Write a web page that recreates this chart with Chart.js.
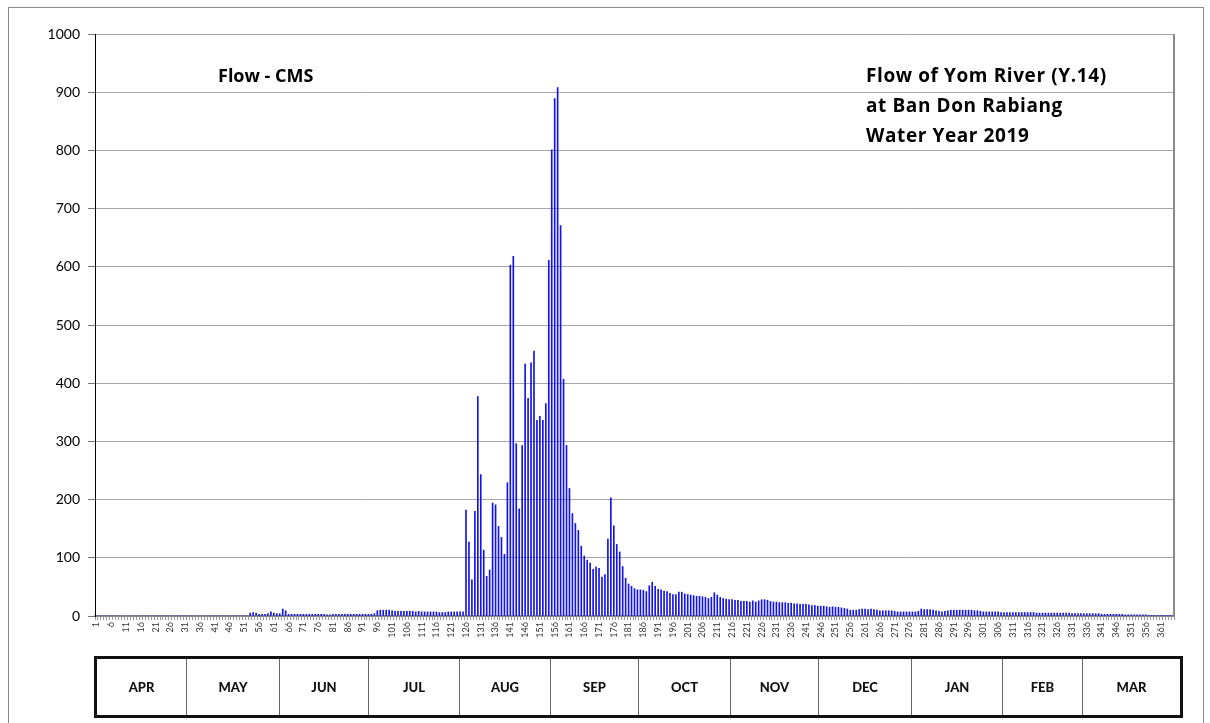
<!DOCTYPE html>
<html>
<head>
<meta charset="utf-8">
<script src="https://cdn.jsdelivr.net/npm/chart.js@4.4.1/dist/chart.umd.min.js"></script>
<style>
  html, body { margin: 0; padding: 0; background: #fff; }
  #wrap { position: relative; width: 1210px; height: 723px; overflow: hidden; font-family: Lato, "Open Sans", sans-serif; }
  #frame { position: absolute; left: 8px; top: 7px; width: 1194px; height: 740px; border: 1px solid #8c8c8c; }
  #chart { position: absolute; left: 0; top: 0; }
  .note { position: absolute; font-family: "Open Sans", sans-serif; font-weight: bold; font-size: 19px; color: #000; white-space: nowrap; line-height: 20px; }
  .note.right { letter-spacing: 0.6px; }
  #months { position: absolute; left: 94px; top: 656px; width: 1083px; height: 56px; border: 3px solid #111; display: flex; }
  #months div { border-right: 1px solid #666; box-sizing: border-box; text-align: center; font-weight: 900; font-size: 13px; line-height: 56px; color: #111; }
  #months div:last-child { border-right: none; }
</style>
</head>
<body>
<div id="wrap">
  <div id="frame"></div>
  <canvas id="chart" width="1210" height="723"></canvas>
  <div class="note" style="left:218px; top:65px; font-size:18px;">Flow - CMS</div>
  <div class="note right" style="left:866px; top:65px;">Flow of Yom River (Y.14)</div>
  <div class="note right" style="left:866px; top:95px;">at Ban Don Rabiang</div>
  <div class="note right" style="left:866px; top:125px;">Water Year 2019</div>
  <div id="months"></div>
</div>
<script>
// Daily flow (CMS), one array per month of the water year
const monthNames = ['APR', 'MAY', 'JUN', 'JUL', 'AUG', 'SEP', 'OCT', 'NOV', 'DEC', 'JAN', 'FEB', 'MAR'];

const flowApr = [0,0,0,0,0,0,0,0,0,0,0,0,0,0,0,0,0,0,0,0,0,0,0,0,0,0,0,0,0,0];
const flowMay = [0,0,0,0,0,0,0,0,0,0,0,0,0,0,0,0,0,0,0,0,0,0,5,6,5,3,3,3,4,7,5];
const flowJun = [4,4,12,9,3,3,3,3,3,3,3,3,3,3,3,3,3,2,2,3,3,3,3,3,3,3,3,3,3,3];
const flowJul = [3,3,3,4,9,10,10,10,10,9,8,8,8,8,8,8,8,7,8,7,7,7,7,7,7,6,6,6,7,7,7];
const flowAug = [7,7,7,182,127,62,180,377,243,113,68,79,194,191,154,135,106,229,603,618,296,184,293,433,374,435,455,336,343,336,365];
const flowSep = [611,801,889,908,671,407,293,219,176,159,147,120,103,96,91,80,84,82,67,71,132,203,155,123,110,85,65,55,51,47];
const flowOct = [45,45,44,42,52,58,51,46,45,43,42,39,37,37,41,41,38,37,36,35,34,34,33,32,30,32,40,36,32,30,29];
const flowNov = [28,28,27,27,25,25,25,24,26,24,26,28,28,27,25,24,24,23,23,23,22,22,21,21,20,20,20,19,18,18];
const flowDec = [17,17,17,16,15,16,15,15,14,13,12,10,10,10,11,12,12,11,12,11,10,9,9,9,9,9,8,7,7,7,7];
const flowJan = [7,7,7,8,12,11,11,11,10,9,8,7,8,9,10,10,10,10,10,10,10,10,9,9,8,7,7,7,7,7,7];
const flowFeb = [6,6,6,6,6,6,6,6,6,6,6,6,5,5,5,5,5,5,5,5,5,5,5,5,4,4,4,4];
const flowMar = [4,4,4,4,4,4,3,3,3,3,3,3,3,3,2,2,2,2,2,2,2,2,1,1,1,1,1,1,1,1,1];

const flow = [].concat(flowApr, flowMay, flowJun, flowJul, flowAug, flowSep,
                       flowOct, flowNov, flowDec, flowJan, flowFeb, flowMar);
const dayLabels = flow.map((v, i) => String(i + 1));

// month strip under the chart
const cellWidths = [90, 93, 89, 91, 91, 88, 92, 88, 93, 91, 80, 97];
const monthBox = document.getElementById('months');
monthNames.forEach((m, i) => {
  const d = document.createElement('div');
  d.style.width = cellWidths[i] + 'px';
  d.textContent = m;
  monthBox.appendChild(d);
});

const ctx = document.getElementById('chart').getContext('2d');
const flowChart = new Chart(ctx, {
  type: 'bar',
  data: {
    labels: dayLabels,
    datasets: [{
      label: 'Flow - CMS',
      data: flow,
      backgroundColor: '#1414e8',
      barThickness: 1
    }]
  },
  options: {
    responsive: false,
    animation: false,
    layout: { padding: { left: 0, top: 34, right: 36, bottom: 0 } },
    plugins: { legend: { display: false }, tooltip: { enabled: false } },
    scales: {
      x: {
        afterFit: s => { s.height = 107; },
        grid: { drawOnChartArea: false, tickLength: 4, color: '#9a9a9a', tickColor: '#9a9a9a' },
        border: { color: '#8a8a8a', width: 2 },
        ticks: {
          autoSkip: false,
          minRotation: 90,
          maxRotation: 90,
          padding: 2,
          color: '#333',
          font: { family: 'Lato, sans-serif', size: 9 },
          callback: (v, i) => (i % 5 === 0 ? dayLabels[i] : '')
        }
      },
      y: {
        min: 0,
        max: 1000,
        afterFit: s => { s.width = 95; },
        grid: { color: '#a6a6a6', tickLength: 7, tickColor: '#777' },
        border: { color: '#000', width: 1 },
        ticks: {
          stepSize: 100,
          padding: 8,
          color: '#000',
          font: { family: 'Lato, sans-serif', size: 14 },
          callback: v => String(v)
        }
      }
    }
  },
  plugins: [{
    // right edge of the plot area
    id: 'rightEdge',
    afterDraw(chart) {
      const a = chart.chartArea, c = chart.ctx;
      c.save();
      c.strokeStyle = '#8a8a8a';
      c.lineWidth = 2;
      c.beginPath();
      c.moveTo(a.right, a.top);
      c.lineTo(a.right, a.bottom);
      c.stroke();
      c.restore();
    }
  }]
});
</script>
</body>
</html>
